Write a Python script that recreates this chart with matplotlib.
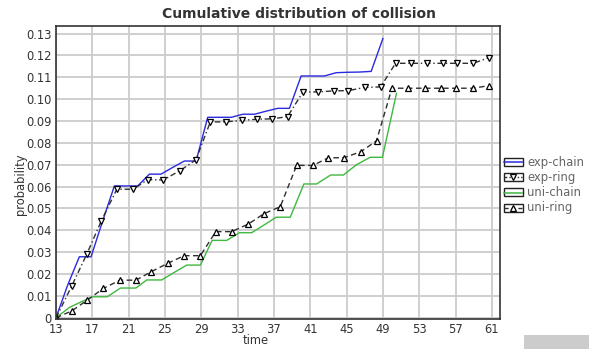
import matplotlib
matplotlib.use("Agg")
import matplotlib.pyplot as plt
from matplotlib.patches import Rectangle

# exp-chain
exp_chain_t = [13, 14.29, 15.57, 16.86, 18.14, 19.43, 20.71, 22.0, 23.29, 24.57,
               25.86, 27.14, 28.43, 29.71, 31.0, 32.29, 33.57, 34.86, 36.14, 37.43,
               38.71, 40.0, 41.29, 42.57, 43.86, 45.14, 46.43, 47.71, 49.0]
exp_chain_p = [0, 0.0150, 0.0279, 0.0279, 0.0443, 0.0603, 0.0603, 0.0603, 0.0657, 0.0657,
               0.0688, 0.0717, 0.0717, 0.0917, 0.0917, 0.0917, 0.0931, 0.0931, 0.0945, 0.0958,
               0.0958, 0.1106, 0.1106, 0.1106, 0.1121, 0.1123, 0.1124, 0.1127, 0.1277]

# exp-ring
exp_ring_t = [13, 14.73, 16.4, 18.0, 19.7, 21.5, 23.1, 24.8, 26.65, 28.4,
              30.0, 31.7, 33.45, 35.1, 36.8, 38.5, 40.2, 41.9, 43.6, 45.2,
              47.0, 48.75, 50.4, 52.1, 53.9, 55.6, 57.2, 58.96, 60.7]
exp_ring_p = [0, 0.0145, 0.0292, 0.0444, 0.0588, 0.0588, 0.0632, 0.0630, 0.0673, 0.0722,
              0.0896, 0.0896, 0.0903, 0.0908, 0.0910, 0.0920, 0.1033, 0.1033, 0.1038, 0.1039,
              0.1054, 0.1056, 0.1164, 0.1164, 0.1164, 0.1164, 0.1164, 0.1164, 0.1190]

# uni-chain
uni_chain_t = [13, 14.5, 15.8, 17.0, 18.65, 20.1, 21.8, 23.0, 24.65, 26.0,
               27.4, 28.9, 30.2, 31.8, 33.2, 34.55, 35.9, 37.25, 38.8, 40.3,
               41.7, 43.25, 44.65, 46.1, 47.6, 48.95, 50.5]
uni_chain_p = [0, 0.0048, 0.0073, 0.0096, 0.0096, 0.0136, 0.0136, 0.0173, 0.0173, 0.0207,
               0.0241, 0.0241, 0.0354, 0.0354, 0.0389, 0.0389, 0.0424, 0.0460, 0.0460, 0.0612,
               0.0612, 0.0653, 0.0653, 0.0700, 0.0734, 0.0734, 0.1027]

# uni-ring
uni_ring_t = [13, 14.73, 16.45, 18.2, 20.05, 21.8, 23.5, 25.3, 27.1, 28.9,
              30.6, 32.35, 34.2, 35.9, 37.7, 39.5, 41.3, 43.0, 44.7, 46.6,
              48.3, 50.0, 51.8, 53.65, 55.35, 57.1, 58.95, 60.7]
uni_ring_p = [0, 0.0031, 0.0081, 0.0134, 0.0172, 0.0172, 0.0211, 0.0249, 0.0284, 0.0284,
              0.0394, 0.0394, 0.0429, 0.0476, 0.0508, 0.0697, 0.0697, 0.0732, 0.0732, 0.0760,
              0.0810, 0.1050, 0.1050, 0.1050, 0.1050, 0.1050, 0.1050, 0.1062]

x_ticks = list(range(13, 62, 4))
y_ticks = [0, 0.01, 0.02, 0.03, 0.04, 0.05, 0.06, 0.07, 0.08, 0.09, 0.10, 0.11, 0.12, 0.13]
y_tick_labels = ["0", "0.01", "0.02", "0.03", "0.04", "0.05", "0.06", "0.07",
                 "0.08", "0.09", "0.10", "0.11", "0.12", "0.13"]

W, H = 589, 349
BLUE = "#2a2ae0"
GREEN = "#3fb83f"
RING = "#303030"

fig = plt.figure(figsize=(W / 100, H / 100), dpi=100)
ax = fig.add_axes([56 / W, 1 - 319.3 / H, 444 / W, 293.6 / H])

ax.plot(exp_chain_t, exp_chain_p, color=BLUE, lw=1.0)
ax.plot(exp_ring_t, exp_ring_p, color=RING, lw=1.0, dashes=(4, 2, 1, 2),
        marker="v", ms=5, mfc="white", mec="black", mew=0.9)
ax.plot(uni_chain_t, uni_chain_p, color=GREEN, lw=1.0)
ax.plot(uni_ring_t, uni_ring_p, color=RING, lw=1.0, dashes=(4, 2.5),
        marker="^", ms=5, mfc="white", mec="black", mew=0.9)

ax.set_xlim(13, 61.9)
ax.set_ylim(-0.0007, 0.1336)
ax.set_xticks(x_ticks)
ax.set_yticks(y_ticks)
ax.set_yticklabels(y_tick_labels)
ax.tick_params(length=0, labelsize=8.3, labelcolor="#333333", pad=3)
ax.grid(True, color="#cccccc", lw=1.3)
ax.set_axisbelow(True)
for sp in ax.spines.values():
    sp.set_color("#333333")
    sp.set_linewidth(1.2)

fig.text(299 / W, 1 - 14 / H, "Cumulative distribution of collision",
         ha="center", va="center", fontsize=10, fontweight="bold", color="#333333")
fig.text(256 / W, 1 - 341 / H, "time", ha="center", va="center",
         fontsize=8.3, color="#333333")
fig.text(20 / W, 1 - 184 / H, "probability", ha="center", va="center",
         rotation=90, fontsize=8.3, color="#333333")

# boxed legend to the right of the plot, laid out in pixel units
lax = fig.add_axes([500 / W, 1 - 225 / H, 89 / W, 75 / H])
lax.set_xlim(500, 589)
lax.set_ylim(225, 150)
lax.axis("off")

legend_rows = [
    ("exp-chain", dict(color=BLUE, lw=1.1), None),
    ("exp-ring", dict(color=RING, lw=1.0, dashes=(2, 1.5, 1, 1.5)), "v"),
    ("uni-chain", dict(color=GREEN, lw=1.1), None),
    ("uni-ring", dict(color=RING, lw=1.0, dashes=(3, 2)), "^"),
]
for i, (name, style, mk) in enumerate(legend_rows):
    cy = 162.5 + 15 * i
    lax.add_patch(Rectangle((503.5, cy - 4), 19, 8, fill=False, ec="#222222", lw=1.0))
    lax.plot([504, 522], [cy, cy], **style)
    if mk:
        lax.plot([513], [cy], marker=mk, ms=4.5, mfc="white", mec="black",
                 mew=0.9, ls="none")
    lax.text(527, cy, name, ha="left", va="center", fontsize=8.4, color="#666666")

# grey bar in the lower right corner
fig.patches.append(Rectangle((524 / W, 0), 65 / W, 14 / H, transform=fig.transFigure,
                             color="#cccccc", lw=0))

fig.savefig("out.png", dpi=100)
